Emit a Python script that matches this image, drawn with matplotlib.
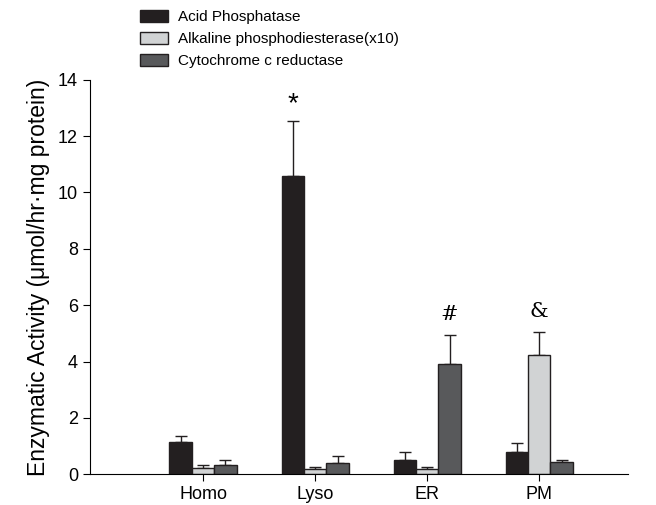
import matplotlib.pyplot as plt
import numpy as np

plt.rcParams["font.family"] = ["Liberation Sans", "DejaVu Sans"]

categories = ["Homo", "Lyso", "ER", "PM"]
series_names = ["Acid Phosphatase", "Alkaline phosphodiesterase(x10)", "Cytochrome c reductase"]
acid = [1.13, 10.59, 0.51, 0.78]
acid_err = [0.24, 1.94, 0.28, 0.31]
alkaline = [0.22, 0.20, 0.19, 4.23]
alkaline_err = [0.10, 0.05, 0.06, 0.82]
cyto = [0.34, 0.40, 3.92, 0.43]
cyto_err = [0.15, 0.23, 1.02, 0.07]
marks = {1: ("*", 0), 2: ("#", 2), 3: ("&", 1)}

colors = ["#231f20", "#d1d3d4", "#58595b"]

fig = plt.figure(figsize=(6.56, 5.05), dpi=100)
ax = fig.add_axes([0.137, 0.061, 0.82, 0.781])

x = np.arange(len(categories))
w = 0.2
values = [acid, alkaline, cyto]
errors = [acid_err, alkaline_err, cyto_err]
for i, (vals, errs, c, name) in enumerate(zip(values, errors, colors, series_names)):
    pos = x + (i - 1) * w
    ax.bar(pos, vals, w, color=c, edgecolor="#231f20", linewidth=1.0, label=name, zorder=2)
    ax.errorbar(pos, vals, yerr=[np.zeros(len(vals)), errs], fmt="none",
                ecolor="#231f20", elinewidth=1.0, capsize=4, capthick=1.0, zorder=1)

for cat, (sym, s) in marks.items():
    top = values[s][cat] + errors[s][cat]
    if sym == "*":
        ax.text(x[cat] + (s - 1) * w, top + 0.15, sym, ha="center", va="bottom", fontsize=20)
    else:
        ax.text(x[cat] + (s - 1) * w, top + 0.4, sym, ha="center", va="bottom", fontsize=15,
                family="DejaVu Serif")

ax.set_xlim(-1.01, 3.79)
ax.set_ylim(0, 14)
ax.set_yticks(np.arange(0, 15, 2))
ax.set_xticks(x)
ax.set_xticklabels(categories, fontsize=13)
ax.tick_params(axis="y", labelsize=13, direction="out", length=5)
ax.tick_params(axis="x", direction="out", length=5)
ax.spines["top"].set_visible(False)
ax.spines["right"].set_visible(False)
ax.set_ylabel("Enzymatic Activity (\u03bcmol/hr\u00b7mg protein)", fontsize=16.5, labelpad=6)

handles, labels = ax.get_legend_handles_labels()
fig.legend(handles, labels, loc="upper left", bbox_to_anchor=(140 / 656, 1 - 10 / 505),
           frameon=False, fontsize=11, handlelength=1.85, handleheight=0.8,
           handletextpad=0.65, labelspacing=0.52, borderaxespad=0, borderpad=0)

fig.savefig("out.png", dpi=100, facecolor="white")
